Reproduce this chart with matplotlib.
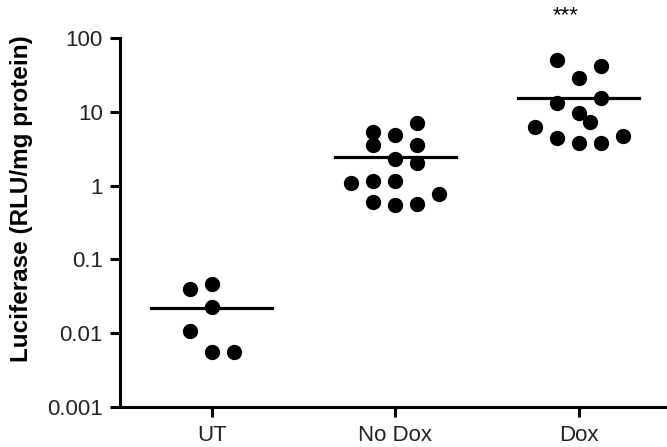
import matplotlib
matplotlib.use("Agg")
import matplotlib.pyplot as plt

plt.rcParams['font.family'] = ['Liberation Sans', 'DejaVu Sans']

groups = ["UT", "No Dox", "Dox"]

# values (RLU/mg protein) and horizontal swarm offsets
ut_vals = [0.0393, 0.0459, 0.0225, 0.0106, 0.0055, 0.0055]
ut_offs = [-0.12, 0.0, 0.0, -0.12, 0.0, 0.12]

nodox_vals = [5.37, 3.58, 4.89, 7.10, 3.58, 2.32, 2.05, 1.10, 1.17, 1.17, 0.608, 0.554, 0.57, 0.78]
nodox_offs = [-0.12, -0.12, 0.0, 0.12, 0.12, 0.0, 0.12, -0.24, -0.12, 0.0, -0.12, 0.0, 0.12, 0.24]

dox_vals = [50.4, 41.8, 28.8, 15.5, 13.2, 9.7, 7.3, 6.27, 4.45, 3.81, 3.81, 4.74]
dox_offs = [-0.12, 0.12, 0.0, 0.12, -0.12, 0.0, 0.06, -0.24, -0.12, 0.0, 0.12, 0.24]

centre_lines = [0.0218, 2.47, 15.5]

fig = plt.figure(figsize=(6.67, 4.47), dpi=100)
ax = fig.add_axes([0.18, 0.0895, 0.82, 0.8255])

all_vals = [ut_vals, nodox_vals, dox_vals]
all_offs = [ut_offs, nodox_offs, dox_offs]
for i in range(3):
    xs = [i + o for o in all_offs[i]]
    ax.plot(xs, all_vals[i], 'o', color='black', markersize=10, linestyle='none')
    ax.plot([i - 0.33, i + 0.33], [centre_lines[i]] * 2, color='black', linewidth=2.3)

ax.set_yscale('log')
ax.set_ylim(0.001, 100)
ax.set_xlim(-0.5, 2.48)
ax.set_yticks([0.001, 0.01, 0.1, 1, 10, 100])
ax.set_yticklabels(["0.001", "0.01", "0.1", "1", "10", "100"])
ax.minorticks_off()
ax.set_xticks(range(3))
ax.set_xticklabels(groups)

for s in ['top', 'right']:
    ax.spines[s].set_visible(False)
for s in ['left', 'bottom']:
    ax.spines[s].set_linewidth(2.2)
ax.tick_params(width=2.2, length=7, labelsize=16, colors='#222222')
ax.tick_params(axis='y', pad=5.5)
ax.tick_params(axis='x', pad=6)
ax.tick_params(color='black')
ax.set_ylabel("Luciferase (RLU/mg protein)", fontsize=17.5, fontweight='bold')
ax.yaxis.set_label_coords(-0.159, 0.564)

ax.text(1.93, 200, "***", ha='center', va='center', fontsize=16, clip_on=False)

fig.savefig("out.png", dpi=100)
